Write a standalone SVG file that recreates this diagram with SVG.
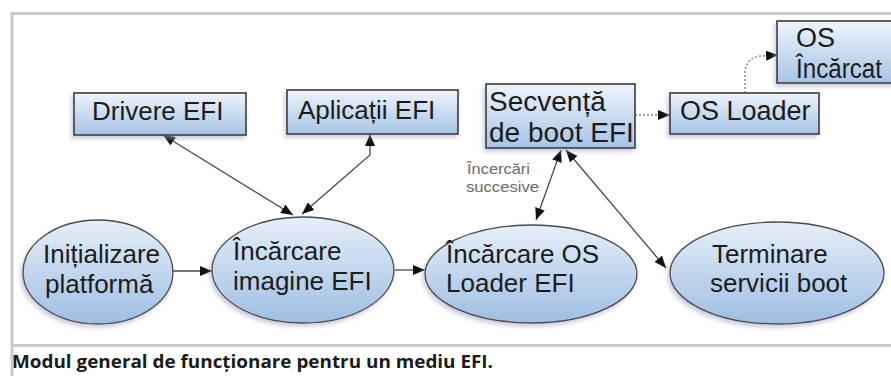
<svg xmlns="http://www.w3.org/2000/svg" width="891" height="376" viewBox="0 0 891 376">
<defs>
<linearGradient id="gb" x1="0" y1="0" x2="0" y2="1">
<stop offset="0" stop-color="#eef4fb"/>
<stop offset="1" stop-color="#a6c4e6"/>
</linearGradient>
<linearGradient id="ge" x1="0" y1="0" x2="0" y2="1">
<stop offset="0" stop-color="#e6eff9"/>
<stop offset="1" stop-color="#9ebee2"/>
</linearGradient>
<filter id="sh" x="-20%" y="-20%" width="140%" height="150%">
<feDropShadow dx="-2" dy="3" stdDeviation="2" flood-color="#9da2c8" flood-opacity="0.55"/>
</filter>
<marker id="ah" viewBox="0 0 12 10" refX="12" refY="5" markerWidth="12" markerHeight="10" markerUnits="userSpaceOnUse" orient="auto-start-reverse">
<path d="M0,0 L12,5 L0,10 z" fill="#111"/>
</marker>
<style>
.box{fill:url(#gb);stroke:#3a3a3a;stroke-width:1.6;filter:url(#sh)}
.ell{fill:url(#ge);stroke:#4a4a4a;stroke-width:1.3;filter:url(#sh)}
.t{font-family:"Liberation Sans",Arial,sans-serif;font-size:26px;fill:#1c1c1c}
.tb{font-size:27px}
.c{fill:none;stroke:#4a4a4a;stroke-width:1.3}
.d{fill:none;stroke:#888;stroke-width:1.5;stroke-dasharray:2 2}
.lbl{font-family:"Liberation Sans",Arial,sans-serif;font-size:14px;fill:#6a6a6a}
.frame{stroke:#cacaca;stroke-width:3;fill:none}
.cap{font-family:"Open Sans","Liberation Sans",sans-serif;font-weight:bold;font-size:18px;fill:#1a1a1a}
</style>
</defs>
<rect width="891" height="376" fill="#fff"/>
<g id="frame">
<path class="frame" d="M12,13.5 H891 M12,12 V376 M12,345.5 H891"/>
</g>
<g id="connectors">
<path class="c" d="M173,271 L212,271" marker-end="url(#ah)"/>
<path class="c" d="M395,270 L425,270" marker-end="url(#ah)"/>
<path class="c" d="M163,135 L293,215" marker-start="url(#ah)" marker-end="url(#ah)"/>
<path class="c" d="M370,134 L370,155 L302,214" marker-start="url(#ah)" marker-end="url(#ah)"/>
<path class="c" d="M561,150 L536,220" marker-start="url(#ah)" marker-end="url(#ah)"/>
<path class="c" d="M566,150 L666,268" marker-start="url(#ah)" marker-end="url(#ah)"/>
<path class="d" d="M635,115 L670,115" marker-end="url(#ah)"/>
<path class="d" d="M745,93 L745,72 Q746,57 762,56 L778,55" marker-end="url(#ah)"/>
<text class="lbl" x="467" y="174" textLength="63" lengthAdjust="spacingAndGlyphs">Încercări</text>
<text class="lbl" x="466" y="192" textLength="73" lengthAdjust="spacingAndGlyphs">succesive</text>
</g>
<g id="n-drivere">
<rect class="box" x="74" y="93" width="172" height="42"/>
<text class="t" x="92" y="120">Drivere EFI</text>
</g>
<g id="n-aplicatii">
<rect class="box" x="287" y="90" width="171" height="44"/>
<text class="t" x="298" y="119">Aplicații EFI</text>
</g>
<g id="n-secventa">
<rect class="box" x="486" y="84" width="149" height="64"/>
<text class="t" x="489" y="111" style="font-size:28px">Secvență</text>
<text class="t" x="489" y="142" style="font-size:28px">de boot EFI</text>
</g>
<g id="n-osloader">
<rect class="box" x="670" y="93" width="149" height="41"/>
<text class="t tb" x="680" y="120">OS Loader</text>
</g>
<g id="n-osincarcat">
<rect class="box" x="777" y="21" width="140" height="62"/>
<text class="t tb" x="796" y="47">OS</text>
<text class="t tb" x="796" y="78" textLength="86" lengthAdjust="spacingAndGlyphs">Încărcat</text>
</g>
<g id="n-init">
<ellipse class="ell" cx="98" cy="272" rx="75" ry="52"/>
<text class="t" x="43" y="263">Inițializare</text>
<text class="t" x="45" y="293">platformă</text>
</g>
<g id="n-imagine">
<ellipse class="ell" cx="303" cy="270" rx="91" ry="53"/>
<text class="t" x="233" y="260">Încărcare</text>
<text class="t" x="233" y="290">imagine EFI</text>
</g>
<g id="n-osloaderefi">
<ellipse class="ell" cx="531" cy="274" rx="106" ry="49"/>
<text class="t" x="446" y="263">Încărcare OS</text>
<text class="t" x="446" y="292">Loader EFI</text>
</g>
<g id="n-terminare">
<ellipse class="ell" cx="777" cy="273" rx="107" ry="51"/>
<text class="t" x="712" y="263">Terminare</text>
<text class="t" x="710" y="292">servicii boot</text>
</g>
<text class="cap" x="12" y="368" textLength="481" lengthAdjust="spacingAndGlyphs">Modul general de funcționare pentru un mediu EFI.</text>
</svg>
